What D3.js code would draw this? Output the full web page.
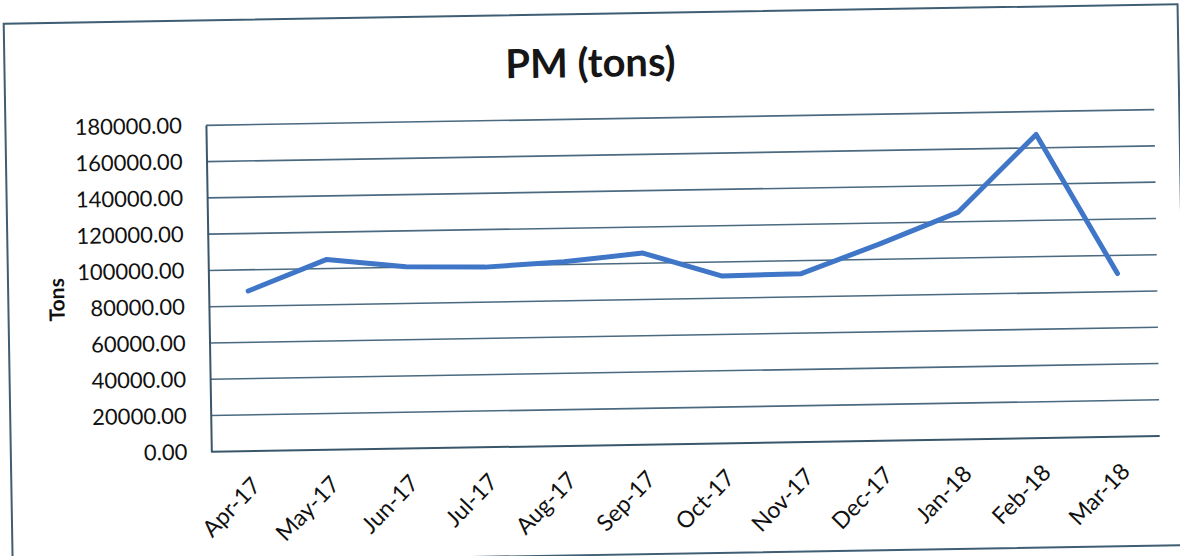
<!DOCTYPE html>
<html>
<head>
<meta charset="utf-8">
<script src="https://cdn.jsdelivr.net/npm/d3@7"></script>
<style>
  body { margin: 0; background: #fff; }
  svg { display: block; font-family: Lato, "Open Sans", sans-serif; }
</style>
</head>
<body>
<svg id="chart"></svg>
<script>
var width = 1180,
	height = 556;

// data
var months = ["Apr-17", "May-17", "Jun-17", "Jul-17", "Aug-17", "Sep-17",
	"Oct-17", "Nov-17", "Dec-17", "Jan-18", "Feb-18", "Mar-18"];
var pmTons = [88300, 105000, 100200, 99300, 101500, 105600,
	92200, 92800, 108500, 125300, 167400, 90000];
var yTicks = [0, 20000, 40000, 60000, 80000, 100000, 120000, 140000, 160000, 180000];

var margin = { left: 208.5, right: 1157, top: 119, bottom: 445.5 };

var svg = d3
	.select("#chart")
	.attr("width", width)
	.attr("height", height)
	// the scan is a little tilted
	.append("g")
	.attr("transform", "rotate(-0.95," + width / 2 + "," + height / 2 + ")");

// page frame
svg
	.append("rect")
	.attr("x", 8)
	.attr("y", 14)
	.attr("width", 1174)
	.attr("height", 541)
	.style("fill", "none")
	.style("stroke", "#3f5d73")
	.style("stroke-width", 2);

var x = d3
	.scalePoint()
	.domain(months)
	.range([margin.left, margin.right])
	.padding(0.5);

var y = d3
	.scaleLinear()
	.domain([0, 180000])
	.range([margin.bottom, margin.top]);

// title
svg
	.append("text")
	.attr("x", 594)
	.attr("y", 77)
	.attr("text-anchor", "middle")
	.style("font-size", "40px")
	.style("font-weight", "bold")
	.style("fill", "#161616")
	.text("PM (tons)");

// gridlines
svg
	.append("g")
	.attr("class", "grid")
	.selectAll("line")
	.data(yTicks.filter((d) => d > 0))
	.enter()
	.append("line")
	.attr("x1", margin.left)
	.attr("x2", margin.right)
	.attr("y1", (d) => y(d))
	.attr("y2", (d) => y(d))
	.style("stroke", "#4b6a80")
	.style("stroke-width", 1.6);

// y axis
var yAxis = svg
	.append("g")
	.attr("transform", "translate(" + margin.left + ",0)")
	.call(
		d3
			.axisLeft(y)
			.tickValues(yTicks)
			.tickSize(0)
			.tickPadding(24)
			.tickFormat(d3.format(".2f"))
	);
yAxis.select(".domain").style("stroke", "#3a566b").style("stroke-width", 2);
yAxis
	.selectAll("text")
	.style("font-family", "Lato, sans-serif")
	.style("font-size", "22px")
	.style("fill", "#111");

// x axis
var xAxis = svg
	.append("g")
	.attr("transform", "translate(0," + margin.bottom + ")")
	.call(d3.axisBottom(x).tickSize(0).tickSizeOuter(0));
xAxis
	.select(".domain")
	.attr("d", "M" + margin.left + ",0H" + margin.right)
	.style("stroke", "#3a566b")
	.style("stroke-width", 2);
xAxis
	.selectAll("text")
	.attr("text-anchor", "end")
	.attr("dy", null)
	.attr("y", 0)
	.attr("transform", "translate(10,36) rotate(-45)")
	.style("font-family", "Lato, sans-serif")
	.style("font-size", "23px")
	.style("fill", "#111");

// y title
svg
	.append("text")
	.attr("transform", "translate(64,291) rotate(-90)")
	.attr("text-anchor", "middle")
	.style("font-size", "21px")
	.style("font-weight", "bold")
	.style("fill", "#111")
	.text("Tons");

// the line
var line = d3
	.line()
	.x((d, i) => x(months[i]))
	.y((d) => y(d));

svg
	.append("path")
	.datum(pmTons)
	.attr("d", line)
	.style("fill", "none")
	.style("stroke", "#3f76c7")
	.style("stroke-width", 5)
	.style("stroke-linejoin", "round")
	.style("stroke-linecap", "round");
</script>
</body>
</html>
